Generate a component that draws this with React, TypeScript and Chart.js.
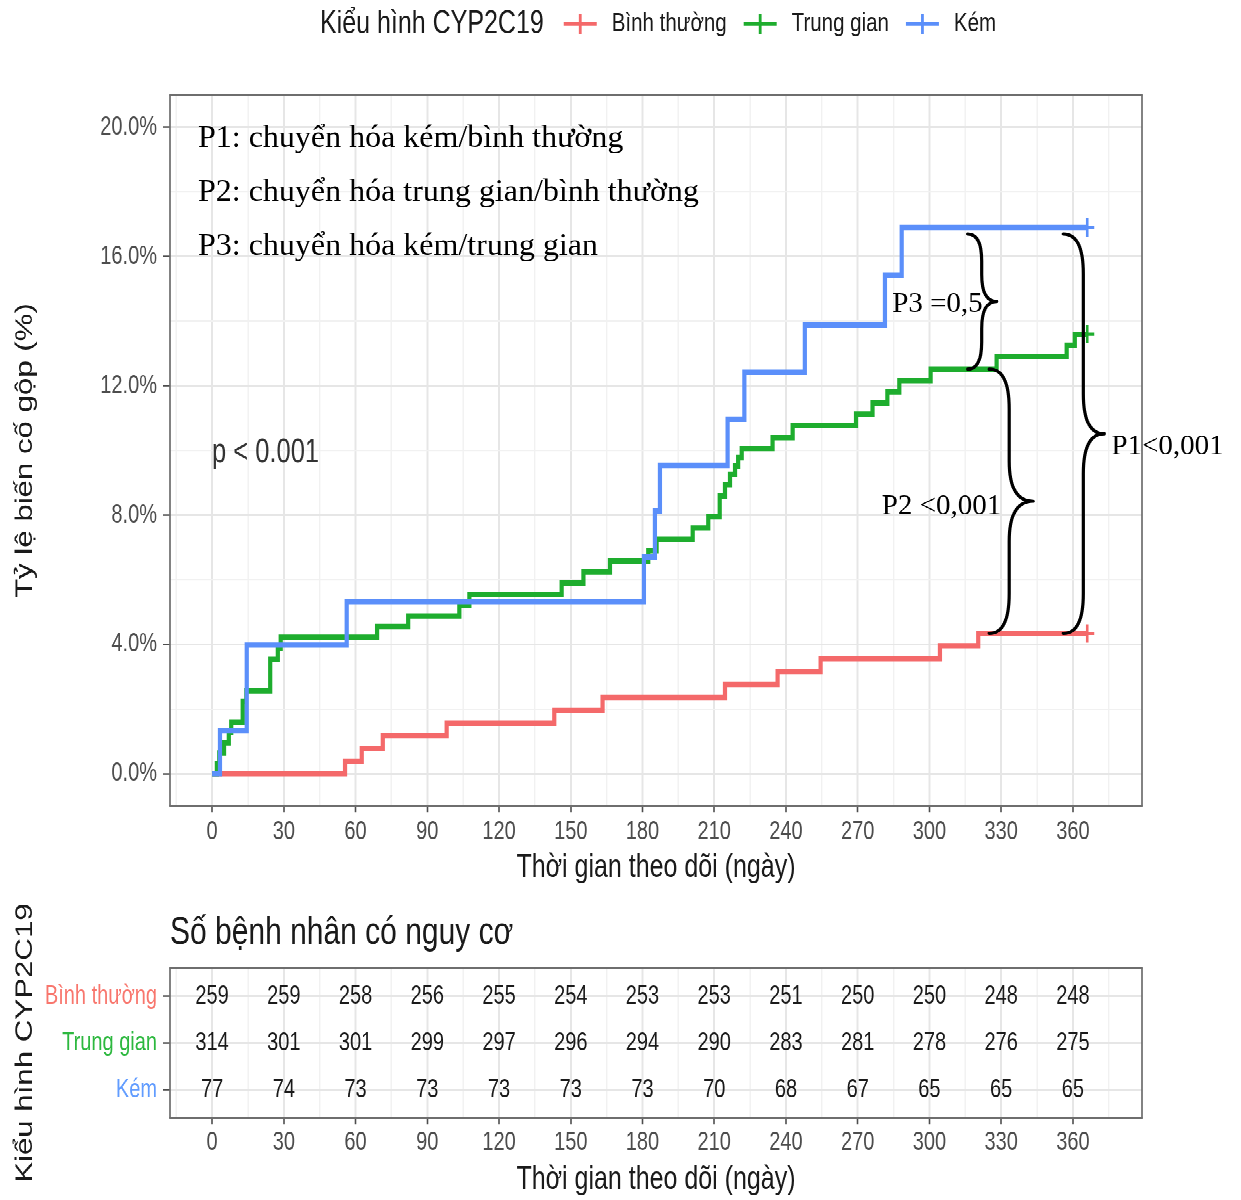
import { useEffect, useRef } from 'react';
import { Chart, registerables } from 'chart.js';

Chart.register(...registerables);

const SANS = "'Liberation Sans', Arial, Helvetica, sans-serif";
const SERIF = "'Liberation Serif', 'Times New Roman', Times, serif";

// The figure is drawn on a canvas that is stretched vertically by SY,
// so layout numbers below are in page pixels divided by SY where vertical.
const SY = 1.3;
const W = 1241;
const HA = Math.round(890 / SY); // main plot canvas height
const HB = Math.round((1200 - HA * SY) / SY); // risk table canvas height
const py = (pagePx: number) => pagePx / SY;

// Cumulative incidence (%) by CYP2C19 phenotype: step times (days) and levels
const binhThuongDays = [0, 55.6, 62.6, 71.4, 98.1, 143.1, 163.3, 214.5, 236.5, 254.5, 304.4, 320.4, 366];
const binhThuongPct = [0, 0.39, 0.78, 1.17, 1.56, 1.96, 2.36, 2.76, 3.16, 3.56, 3.96, 4.34, 4.34];

const trungGianDays = [
  0, 2, 3, 5, 7, 8, 12.8, 14.3, 24.3, 27.5, 28.7, 69, 82, 103.4, 107.6, 146.2, 155.3, 166.4, 182.4,
  185.9, 201, 207.5, 212.3, 214.5, 216.6, 218.7, 220, 221.5, 234.4, 242.8, 269.3, 276.2, 282.4,
  287.4, 300.5, 328.1, 357.4, 360.8, 366,
];
const trungGianPct = [
  0, 0.32, 0.64, 0.96, 1.28, 1.6, 2.24, 2.57, 3.55, 3.88, 4.22, 4.55, 4.88, 5.21, 5.55, 5.9, 6.25, 6.58, 6.9,
  7.25, 7.6, 7.95, 8.6, 8.95, 9.26, 9.52, 9.78, 10.06, 10.4, 10.77, 11.12, 11.47, 11.82,
  12.17, 12.52, 12.9, 13.26, 13.6, 13.6,
];

const kemDays = [0, 3.3, 14.5, 56.3, 180.6, 185.2, 187.3, 215.6, 222.6, 247.9, 281.4, 288.4, 366];
const kemPct = [0, 1.33, 3.98, 5.33, 6.7, 8.13, 9.54, 10.97, 12.42, 13.88, 15.42, 16.9, 16.9];

// Number at risk
const riskDays = [0, 30, 60, 90, 120, 150, 180, 210, 240, 270, 300, 330, 360];
const riskBinhThuong = [259, 259, 258, 256, 255, 254, 253, 253, 251, 250, 250, 248, 248];
const riskTrungGian = [314, 301, 301, 299, 297, 296, 294, 290, 283, 281, 278, 276, 275];
const riskKem = [77, 74, 73, 73, 73, 73, 73, 70, 68, 67, 65, 65, 65];

const groupNames = ['Bình thường', 'Trung gian', 'Kém'];
const lineColors = ['#F4696A', '#1EAD2E', '#5B8FFA'];
const labelColors = ['#F8766D', '#2DB83F', '#619CFF'];

const yTickValues = [0, 2, 4, 6, 8, 10, 12, 14, 16, 18, 20];
const noteLines = [
  'P1: chuyển hóa kém/bình thường',
  'P2: chuyển hóa trung gian/bình thường',
  'P3: chuyển hóa kém/trung gian',
];
const pValueText = 'p < 0.001';

const X_MIN = -17.6;
const X_MAX = 388.9;
const GRID_MAJOR = '#E6E6E6';
const GRID_MINOR = '#F1F1F1';
const TICK_COLOR = '#4D4D4D';
const TEXT_DARK = '#1A1A1A';

const xGridValues: number[] = [];
for (let v = -15; v <= 375; v += 15) xGridValues.push(v);
const isMajorX = (v: number) => v >= 0 && v <= 360 && v % 30 === 0;
const isMajorY = (v: number) => v % 4 === 0;

function valueAt(days: number[], vals: number[], d: number) {
  let v = vals[0];
  for (let i = 0; i < days.length; i++) if (days[i] <= d) v = vals[i];
  return v;
}

function xScale(height: number, tickPad: number, titlePad: number) {
  return {
    type: 'linear',
    min: X_MIN,
    max: X_MAX,
    afterBuildTicks: (s: any) => {
      s.ticks = xGridValues.map((v) => ({ value: v }));
    },
    afterFit: (s: any) => {
      s.height = height;
    },
    border: { display: false },
    grid: {
      color: (c: any) => (c.tick && isMajorX(c.tick.value) ? GRID_MAJOR : GRID_MINOR),
      lineWidth: (c: any) => (c.tick && isMajorX(c.tick.value) ? 2 : 1.4),
      tickColor: (c: any) => (c.tick && isMajorX(c.tick.value) ? TICK_COLOR : 'rgba(0,0,0,0)'),
      tickLength: py(6),
      tickWidth: 1.6,
    },
    ticks: {
      autoSkip: false,
      maxRotation: 0,
      padding: tickPad,
      color: TICK_COLOR,
      font: { size: 20, family: SANS },
      callback: (v: any) => (isMajorX(Number(v)) ? String(v) : ''),
    },
    title: {
      display: true,
      text: 'Thời gian theo dõi (ngày)',
      color: TEXT_DARK,
      font: { size: 25, family: SANS },
      padding: { top: 0, bottom: titlePad },
    },
  };
}

const panelBorder = {
  id: 'panelBorder',
  afterDraw(chart: any) {
    const { ctx } = chart;
    const { left, top, right, bottom } = chart.chartArea;
    ctx.save();
    ctx.strokeStyle = '#6E6E6E';
    ctx.lineWidth = 1.7;
    ctx.beginPath();
    ctx.moveTo(left, top);
    ctx.lineTo(left, bottom);
    ctx.moveTo(right, top);
    ctx.lineTo(right, bottom);
    ctx.stroke();
    ctx.lineWidth = 1.7 / SY;
    ctx.beginPath();
    ctx.moveTo(left - 0.85, top);
    ctx.lineTo(right + 0.85, top);
    ctx.moveTo(left - 0.85, bottom);
    ctx.lineTo(right + 0.85, bottom);
    ctx.stroke();
    ctx.restore();
  },
};

const topLegend = {
  id: 'topLegend',
  afterDraw(chart: any) {
    const { ctx } = chart;
    const y = py(24);
    ctx.save();
    ctx.textBaseline = 'middle';
    ctx.textAlign = 'left';
    ctx.fillStyle = TEXT_DARK;
    ctx.font = `25px ${SANS}`;
    let x = 320;
    ctx.fillText('Kiểu hình CYP2C19', x, y);
    x += ctx.measureText('Kiểu hình CYP2C19').width + 20;
    ctx.font = `20.5px ${SANS}`;
    groupNames.forEach((name, i) => {
      ctx.strokeStyle = lineColors[i];
      ctx.lineWidth = 3.8 / SY;
      ctx.beginPath();
      ctx.moveTo(x, y);
      ctx.lineTo(x + 33, y);
      ctx.stroke();
      ctx.lineWidth = 2.8;
      ctx.beginPath();
      ctx.moveTo(x + 16.5, y - py(10));
      ctx.lineTo(x + 16.5, y + py(10));
      ctx.stroke();
      x += 33 + 15;
      ctx.fillStyle = TEXT_DARK;
      ctx.fillText(name, x, y);
      x += ctx.measureText(name).width + 17;
    });
    ctx.fillStyle = '#333';
    ctx.font = `25.5px ${SANS}`;
    ctx.fillText(pValueText, 212, py(453));
    ctx.restore();
  },
};

function drawBrace(ctx: any, x0: number, yTop: number, yBot: number, xm: number, xt: number) {
  const ym = (yTop + yBot) / 2;
  const r = Math.min(40, (yBot - yTop) * 0.2);
  ctx.beginPath();
  ctx.moveTo(x0, yTop);
  ctx.quadraticCurveTo(xm, yTop, xm, yTop + r);
  ctx.lineTo(xm, ym - r);
  ctx.quadraticCurveTo(xm, ym, xt, ym);
  ctx.quadraticCurveTo(xm, ym, xm, ym + r);
  ctx.lineTo(xm, yBot - r);
  ctx.quadraticCurveTo(xm, yBot, x0, yBot);
  ctx.stroke();
}

const kemEnd = kemPct[kemPct.length - 1];
const binhThuongEnd = binhThuongPct[binhThuongPct.length - 1];
const braces = [
  { day: 316, top: kemEnd - 0.2, bottom: valueAt(trungGianDays, trungGianPct, 316), bend: 14, tip: 29, label: 'P3 =0,5', labelSide: 'left', labelGap: 14, labelDy: 3 },
  { day: 325, top: valueAt(trungGianDays, trungGianPct, 325), bottom: binhThuongEnd, bend: 20, tip: 44, label: 'P2 <0,001', labelSide: 'left', labelGap: 32, labelDy: 5 },
  { day: 356, top: kemEnd - 0.2, bottom: binhThuongEnd, bend: 20, tip: 41, label: 'P1<0,001', labelSide: 'right', labelGap: 7, labelDy: 13 },
];

// Serif notes and braces are laid out in unstretched page pixels.
const notes = {
  id: 'notes',
  afterDraw(chart: any) {
    const { ctx } = chart;
    const xs = chart.scales.x;
    const ys = chart.scales.y;
    ctx.save();
    ctx.scale(1, 1 / SY);
    ctx.fillStyle = '#000';
    ctx.font = `32px ${SERIF}`;
    ctx.textAlign = 'left';
    ctx.textBaseline = 'alphabetic';
    noteLines.forEach((t, i) => ctx.fillText(t, 198, 147 + i * 54));

    ctx.strokeStyle = '#000';
    ctx.lineWidth = 3.2;
    ctx.lineJoin = 'round';
    ctx.lineCap = 'round';
    ctx.font = `29px ${SERIF}`;
    ctx.textBaseline = 'middle';
    braces.forEach((b) => {
      const x0 = xs.getPixelForValue(b.day);
      const y1 = ys.getPixelForValue(b.top) * SY;
      const y2 = ys.getPixelForValue(b.bottom) * SY;
      const xt = x0 + b.tip;
      drawBrace(ctx, x0, y1, y2, x0 + b.bend, xt);
      const ym = (y1 + y2) / 2 + b.labelDy;
      if (b.labelSide === 'left') {
        ctx.textAlign = 'right';
        ctx.fillText(b.label, xt - b.labelGap, ym);
      } else {
        ctx.textAlign = 'left';
        ctx.fillText(b.label, xt + b.labelGap, ym);
      }
    });
    ctx.restore();
  },
};

const riskTitle = {
  id: 'riskTitle',
  afterDraw(chart: any) {
    const { ctx } = chart;
    ctx.save();
    ctx.fillStyle = TEXT_DARK;
    ctx.font = `30px ${SANS}`;
    ctx.textAlign = 'left';
    ctx.textBaseline = 'middle';
    ctx.fillText('Số bệnh nhân có nguy cơ', 170, py(933) - HA);
    ctx.restore();
  },
};

const riskValues = {
  id: 'riskValues',
  afterDatasetsDraw(chart: any) {
    const { ctx } = chart;
    ctx.save();
    ctx.fillStyle = TEXT_DARK;
    ctx.font = `20px ${SANS}`;
    ctx.textAlign = 'center';
    ctx.textBaseline = 'middle';
    chart.data.datasets.forEach((ds: any, i: number) => {
      const meta = chart.getDatasetMeta(i);
      meta.data.forEach((el: any, j: number) => {
        ctx.fillText(String(ds.data[j].n), el.x, el.y);
      });
    });
    ctx.restore();
  },
};

function mainConfig(): any {
  const series = [
    { days: binhThuongDays, pct: binhThuongPct },
    { days: trungGianDays, pct: trungGianPct },
    { days: kemDays, pct: kemPct },
  ];
  const chartBottom = py(806);
  return {
    type: 'line',
    data: {
      datasets: series.map((s, i) => ({
        label: groupNames[i],
        data: s.days.map((d, j) => ({ x: d, y: s.pct[j] })),
        borderColor: lineColors[i],
        borderWidth: 4.2,
        stepped: 'before',
        fill: false,
        pointStyle: 'cross',
        pointRadius: s.days.map((_, j) => (j === s.days.length - 1 ? 7 : 0)),
        pointBorderColor: lineColors[i],
        pointBorderWidth: 2.6,
        order: 3 - i,
      })),
    },
    options: {
      animation: false,
      responsive: false,
      devicePixelRatio: 2,
      events: [],
      layout: { padding: { top: py(95), right: W - 1142, bottom: 0, left: 0 } },
      plugins: { legend: { display: false }, tooltip: { enabled: false }, title: { display: false } },
      scales: {
        x: xScale(HA - chartBottom, 3.4, HA - py(868) - 15),
        y: {
          type: 'linear',
          min: -1,
          max: 21,
          afterBuildTicks: (s: any) => {
            s.ticks = yTickValues.map((v) => ({ value: v }));
          },
          afterFit: (s: any) => {
            s.width = 170;
          },
          border: { display: false },
          grid: {
            color: (c: any) => (c.tick && isMajorY(c.tick.value) ? GRID_MAJOR : GRID_MINOR),
            lineWidth: (c: any) => (c.tick && isMajorY(c.tick.value) ? 2 / SY : 1.4 / SY),
            tickColor: (c: any) => (c.tick && isMajorY(c.tick.value) ? TICK_COLOR : 'rgba(0,0,0,0)'),
            tickLength: 7,
            tickWidth: 1.6 / SY,
          },
          ticks: {
            padding: 6,
            color: TICK_COLOR,
            font: { size: 20, family: SANS },
            callback: (v: any) => (isMajorY(Number(v)) ? `${Number(v).toFixed(1)}%` : ''),
          },
          title: {
            display: true,
            text: 'Tỷ lệ biến cố gộp (%)',
            color: TEXT_DARK,
            font: { size: 24, family: SANS },
            padding: { top: 11, bottom: 0 },
          },
        },
      },
    },
    plugins: [panelBorder, topLegend, notes],
  };
}

function riskConfig(): any {
  const rows = [riskBinhThuong, riskTrungGian, riskKem];
  const top = py(968) - HA;
  const bottom = py(1118) - HA;
  return {
    type: 'scatter',
    data: {
      datasets: rows.map((vals, i) => ({
        label: groupNames[i],
        data: riskDays.map((d, j) => ({ x: d, y: i + 1, n: vals[j] })),
        pointRadius: 0,
        showLine: false,
      })),
    },
    options: {
      animation: false,
      responsive: false,
      devicePixelRatio: 2,
      events: [],
      layout: { padding: { top, right: W - 1142, bottom: 0, left: 0 } },
      plugins: { legend: { display: false }, tooltip: { enabled: false }, title: { display: false } },
      scales: {
        x: xScale(HB - bottom, py(1143) - HA - bottom - py(6) - 12, Math.max(0, HB - (py(1180) - HA) - 15)),
        y: {
          type: 'linear',
          min: 0.4,
          max: 3.6,
          reverse: true,
          afterBuildTicks: (s: any) => {
            s.ticks = [1, 2, 3].map((v) => ({ value: v }));
          },
          afterFit: (s: any) => {
            s.width = 170;
          },
          border: { display: false },
          grid: { color: GRID_MAJOR, lineWidth: 2 / SY, tickColor: TICK_COLOR, tickLength: 7, tickWidth: 1.6 / SY },
          ticks: {
            padding: 6,
            font: { size: 20, family: SANS },
            color: (c: any) => labelColors[Math.round(c.tick ? c.tick.value : c.index + 1) - 1],
            callback: (v: any) => groupNames[Math.round(Number(v)) - 1],
          },
          title: {
            display: true,
            text: 'Kiểu hình CYP2C19',
            color: TEXT_DARK,
            font: { size: 24, family: SANS },
            padding: { top: 11, bottom: 0 },
          },
        },
      },
    },
    plugins: [panelBorder, riskTitle, riskValues],
  };
}

export default function App() {
  const mainRef = useRef<HTMLCanvasElement>(null);
  const riskRef = useRef<HTMLCanvasElement>(null);

  useEffect(() => {
    Chart.defaults.font.family = SANS;
    const main = new Chart(mainRef.current as HTMLCanvasElement, mainConfig());
    const risk = new Chart(riskRef.current as HTMLCanvasElement, riskConfig());
    return () => {
      main.destroy();
      risk.destroy();
    };
  }, []);

  return (
    <div
      style={{
        position: 'absolute',
        left: 0,
        top: 0,
        width: W,
        height: HA + HB,
        background: '#fff',
        transform: `scale(1, ${SY})`,
        transformOrigin: '0 0',
      }}
    >
      <canvas ref={mainRef} width={W} height={HA} style={{ position: 'absolute', left: 0, top: 0 }} />
      <canvas ref={riskRef} width={W} height={HB} style={{ position: 'absolute', left: 0, top: HA }} />
    </div>
  );
}
